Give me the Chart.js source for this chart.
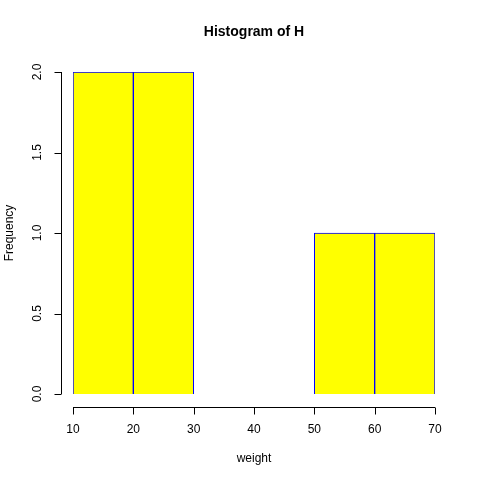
<!DOCTYPE html>
<html><head>
<script src="https://cdn.jsdelivr.net/npm/chart.js@4"></script>
<style>body{margin:0;background:#fff}#wrap{width:480px;height:480px}</style>
</head><body>
<div id="wrap"><canvas id="c"></canvas></div>
<script>
const binMids = [15, 25, 35, 45, 55, 65];
const counts = [2, 2, 0, 0, 1, 1];
const xTicks = [10, 20, 30, 40, 50, 60, 70];
const yTicks = [0, 0.5, 1, 1.5, 2];
const yTickLabels = ["0.0", "0.5", "1.0", "1.5", "2.0"];

const rAxes = {
  id: "rAxes",
  afterDraw(chart) {
    const ctx = chart.ctx, x = chart.scales.x, y = chart.scales.y;
    ctx.save();
    ctx.strokeStyle = "#000"; ctx.fillStyle = "#000"; ctx.lineWidth = 1;
    ctx.font = "12px Arial, 'Liberation Sans'";
    // x axis
    const ay = 407.5;
    ctx.beginPath();
    ctx.moveTo(x.getPixelForValue(10), ay); ctx.lineTo(x.getPixelForValue(70), ay);
    xTicks.forEach(v => { const px = Math.round(x.getPixelForValue(v)) + 0.5; ctx.moveTo(px, ay); ctx.lineTo(px, ay + 7); });
    ctx.stroke();
    ctx.textAlign = "center"; ctx.textBaseline = "middle";
    xTicks.forEach(v => ctx.fillText(String(v), x.getPixelForValue(v), 430));
    // y axis
    const ax = 61.5;
    ctx.beginPath();
    ctx.moveTo(ax, y.getPixelForValue(0)); ctx.lineTo(ax, y.getPixelForValue(2));
    yTicks.forEach(v => { const py = Math.round(y.getPixelForValue(v)) + 0.5; ctx.moveTo(ax, py); ctx.lineTo(ax - 7, py); });
    ctx.stroke();
    yTicks.forEach((v, i) => {
      ctx.save(); ctx.translate(38, y.getPixelForValue(v)); ctx.rotate(-Math.PI / 2);
      ctx.fillText(yTickLabels[i], 0, 0); ctx.restore();
    });
    // axis titles
    ctx.fillText("weight", 254, 459);
    ctx.save(); ctx.translate(10, 233); ctx.rotate(-Math.PI / 2); ctx.fillText("Frequency", 0, 0); ctx.restore();
    ctx.font = "bold 14px Arial, 'Liberation Sans'";
    ctx.fillText("Histogram of H", 254, 32);
    ctx.restore();
  }
};

new Chart(document.getElementById("c"), {
  type: "bar",
  data: {
    datasets: [{
      data: binMids.map((m, i) => ({ x: m, y: counts[i] })),
      backgroundColor: "#ffff00",
      borderColor: "#0000ff",
      borderWidth: 1,
      barPercentage: 1,
      categoryPercentage: 1
    }]
  },
  options: {
    responsive: true, maintainAspectRatio: false, animation: false,
    layout: { padding: { left: 73, right: 45, top: 72, bottom: 86 } },
    plugins: { legend: { display: false }, tooltip: { enabled: false } },
    scales: {
      x: { type: "linear", min: 10, max: 70, display: false, offset: false },
      y: { min: 0, max: 2, display: false }
    }
  },
  plugins: [rAxes]
});
</script>
</body></html>
